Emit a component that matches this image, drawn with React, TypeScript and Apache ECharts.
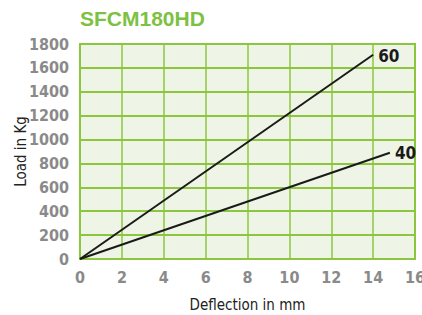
import React, { useEffect, useRef } from "react";
import * as echarts from "echarts";

const title = "SFCM180HD";
const xName = "Deflection in mm";
const yName = "Load in Kg";
const series60 = [[0, 0], [14, 1710]];
const series40 = [[0, 0], [14.8, 890]];
const seriesNames = ["60", "40"];

export default function App() {
  const ref = useRef<HTMLDivElement>(null);
  useEffect(() => {
    const chart = echarts.init(ref.current!, null, { renderer: "svg" });
    const green = "#8cc63f";
    const narrow = "'Liberation Sans Narrow', 'DejaVu Sans Condensed', sans-serif";
    chart.setOption({
      animation: false,
      title: {
        text: title,
        left: 75,
        top: 3,
        textStyle: { color: "#7dc142", fontSize: 21, fontWeight: "bold", fontFamily: "'Liberation Sans', Arial, sans-serif" },
      },
      grid: { left: 80, right: 7, top: 44, bottom: 56, outerBoundsMode: "none", containLabel: false, show: true, backgroundColor: "#eff5e6", borderColor: green, borderWidth: 2 },
      xAxis: {
        type: "value",
        min: 0,
        max: 16,
        interval: 2,
        name: xName,
        nameLocation: "middle",
        nameGap: 38,
        nameTextStyle: { color: "#222", fontSize: 15, fontFamily: narrow },
        axisLine: { show: false },
        axisTick: { show: false },
        axisLabel: { color: "#8a8a8a", fontSize: 16, fontWeight: "bold", fontFamily: narrow, margin: 10, formatter: (v: number) => String(v) },
        splitLine: { show: true, lineStyle: { color: green, width: 1.5 } },
      },
      yAxis: {
        type: "value",
        min: 0,
        max: 1800,
        interval: 200,
        name: yName,
        nameLocation: "middle",
        nameGap: 52,
        nameMoveOverlap: false,
        nameTextStyle: { color: "#222", fontSize: 15, fontFamily: narrow },
        axisLine: { show: false },
        axisTick: { show: false },
        axisLabel: { color: "#8a8a8a", fontSize: 16, fontWeight: "bold", fontFamily: narrow, margin: 11, formatter: (v: number) => String(v) },
        splitLine: { show: true, lineStyle: { color: green, width: 2 } },
      },
      series: [
        {
          name: seriesNames[0],
          type: "line",
          data: series60,
          symbol: "none",
          lineStyle: { color: "#1a1a1a", width: 2 },
          endLabel: { show: true, formatter: seriesNames[0], color: "#1a1a1a", fontSize: 17, fontWeight: "bold", fontFamily: narrow, distance: 5, offset: [0, 1] },
        },
        {
          name: seriesNames[1],
          type: "line",
          data: series40,
          symbol: "none",
          lineStyle: { color: "#1a1a1a", width: 2 },
          endLabel: { show: true, formatter: seriesNames[1], color: "#1a1a1a", fontSize: 17, fontWeight: "bold", fontFamily: narrow, distance: 5, offset: [0, 0] },
        },
      ],
    });
    return () => chart.dispose();
  }, []);
  return <div ref={ref} style={{ width: 422, height: 315, position: "absolute", left: 0, top: 0 }} />;
}
